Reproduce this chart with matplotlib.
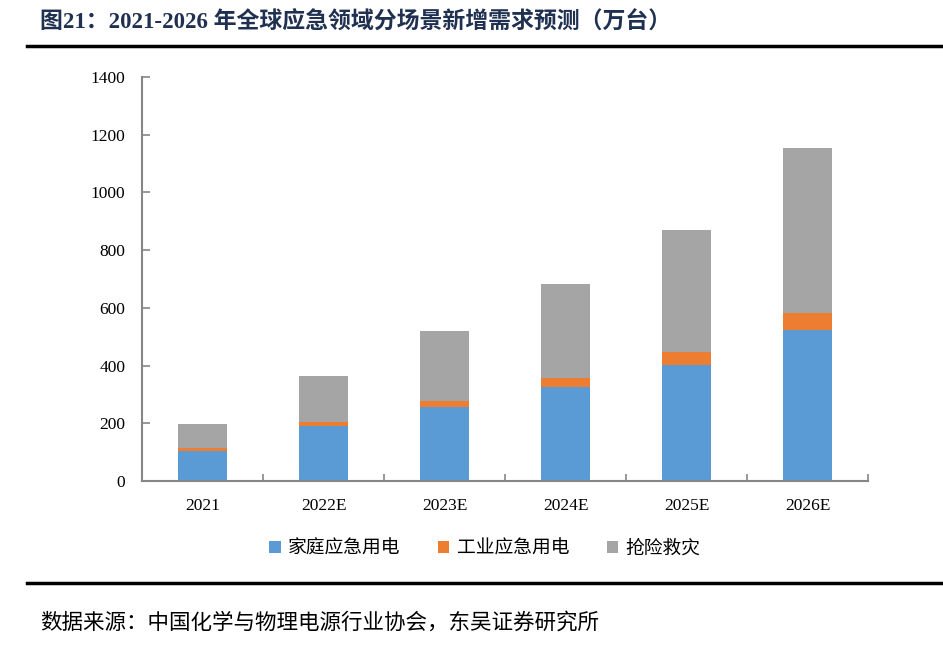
import numpy as np
import matplotlib.pyplot as plt
from matplotlib.lines import Line2D

# Daten (万台)
years = ['2021', '2022E', '2023E', '2024E', '2025E', '2026E']
home = [105, 190, 255, 326, 402, 525]      # 家庭应急用电
industry = [9, 15, 22, 31, 44, 57]         # 工业应急用电
rescue = [83, 160, 244, 325, 423, 573]     # 抢险救灾
series_names = ['家庭应急用电', '工业应急用电', '抢险救灾']
y_ticks = [0, 200, 400, 600, 800, 1000, 1200, 1400]

fonts = ['Liberation Serif', 'Noto Sans CJK SC', 'DejaVu Sans']
plt.rcParams['font.family'] = fonts

fig = plt.figure(figsize=(9.43, 6.72), dpi=100)
ax = fig.add_axes([142 / 943, 1 - 481 / 672, 726 / 943, 404 / 672])

x = np.arange(len(years))
w = 0.4
home = np.array(home)
industry = np.array(industry)
rescue = np.array(rescue)
b1 = ax.bar(x, home, w, color='#5B9BD5', label=series_names[0])
b2 = ax.bar(x, industry, w, bottom=home, color='#ED7D31', label=series_names[1])
b3 = ax.bar(x, rescue, w, bottom=home + industry, color='#A5A5A5', label=series_names[2])

ax.set_xlim(-0.5, len(years) - 0.5)
ax.set_ylim(0, 1400)
ax.set_yticks(y_ticks)
ax.set_yticklabels([str(v) for v in y_ticks], fontsize=12.5)
ax.set_xticks(x)
ax.set_xticklabels(years, fontsize=12.5)
ax.tick_params(axis='x', length=0, pad=12)
ax.set_xticks(np.arange(-0.5, len(years)), minor=True)
ax.tick_params(axis='x', which='minor', direction='in', length=5, color='#868686', width=1.2)
ax.tick_params(axis='y', direction='in', length=6, color='#868686', width=1.2, pad=12)

for s in ['top', 'right']:
    ax.spines[s].set_visible(False)
for s in ['left', 'bottom']:
    ax.spines[s].set_color('#868686')
    ax.spines[s].set_linewidth(1.5)

fig.legend(handles=[b1, b2, b3], loc='center', bbox_to_anchor=(485 / 943, 1 - 549 / 672),
           ncol=3, frameon=False, handlelength=0.6, handleheight=0.6,
           columnspacing=2.0, handletextpad=0.4, prop={'family': fonts, 'size': 13.5})

# Titel und Quelle
fig.text(40 / 943, 1 - 23 / 672, '图21：2021-2026 年全球应急领域分场景新增需求预测（万台）',
         fontsize=16.5, fontweight='bold', color='#1F3050', va='center', ha='left')
fig.text(40 / 943, 1 - 623 / 672, '数据来源：中国化学与物理电源行业协会，东吴证券研究所',
         fontsize=15.5, color='black', va='center', ha='left')

fig.add_artist(Line2D([27 / 943, 1], [1 - 46 / 672] * 2, color='black', lw=2.5))
fig.add_artist(Line2D([27 / 943, 1], [1 - 583 / 672] * 2, color='black', lw=2.5))

fig.savefig('out.png', dpi=100)
